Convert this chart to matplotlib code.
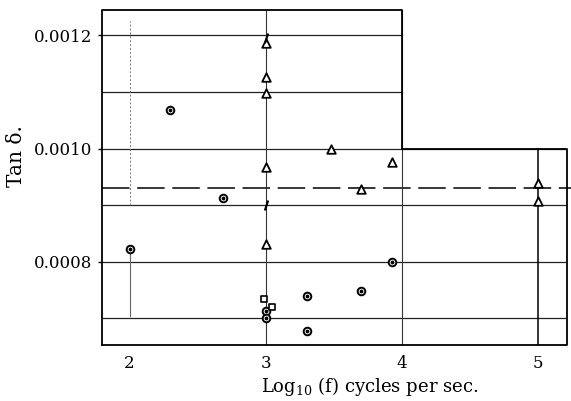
import matplotlib
matplotlib.use("Agg")
import matplotlib.pyplot as plt

plt.rcParams["mathtext.fontset"] = "dejavuserif"

# ---- data ----
tri_x = [3.0, 3.0, 3.0, 3.0, 3.0, 3.48, 3.70, 3.93, 5.0, 5.0]
tri_y = [0.001187, 0.001127, 0.001099, 0.000968, 0.000832, 0.0010, 0.000929, 0.000977, 0.000940, 0.000908]
circ_x = [2.0, 2.30, 2.69, 3.0, 3.0, 3.30, 3.30, 3.70, 3.93]
circ_y = [0.000823, 0.001069, 0.000913, 0.000713, 0.000700, 0.000740, 0.000678, 0.000749, 0.000800]
sq_x = [2.99, 3.05]
sq_y = [0.000735, 0.000721]
slash_x = [3.0, 3.0]
slash_y = [0.001195, 0.000900]
mean_line = 0.000931
xticks = [2, 3, 4, 5]
yticks = [0.0008, 0.0010, 0.0012]
ytick_labels = ["0.0008", "0.0010", "0.0012"]
grid_short = [0.0012, 0.0011]
grid_full = [0.0010, 0.0009, 0.0008, 0.0007]

W, H = 571, 401
fig = plt.figure(figsize=(W / 100, H / 100), dpi=100)
L, R, T, B = 102, 567, 10, 345
ax = fig.add_axes([L / W, 1 - B / H, (R - L) / W, (B - T) / H])
xl, xr = 1.798, 5.213
yb, yt = 0.000653, 0.001245
ax.set_xlim(xl, xr)
ax.set_ylim(yb, yt)
for s in ax.spines.values():
    s.set_visible(False)

serif = ["DejaVu Serif"]
fw = 1.3
# stepped frame
ax.plot([xl, xl, 4, 4, xr, xr, xl], [yb, yt, yt, 0.0010, 0.0010, yb, yb],
        color="black", lw=fw, clip_on=False, zorder=3)

# grid lines
for g in grid_short:
    ax.plot([xl, 4], [g, g], color="#222222", lw=0.9, zorder=1)
for g in grid_full:
    ax.plot([xl, xr], [g, g], color="#222222", lw=0.9, zorder=1)
ax.plot([xl, 5.26], [mean_line, mean_line], color="black", lw=1.1,
        dashes=(18, 5), clip_on=False, zorder=1)

# vertical lines
ax.plot([3, 3], [yb, yt], color="#333333", lw=0.8, zorder=1)
ax.plot([4, 4], [yb, yt], color="#333333", lw=0.8, zorder=1)
ax.plot([5, 5], [yb, 0.0010], color="black", lw=1.1, zorder=1)
ax.plot([2, 2], [0.00090, yt - 0.00002], color="#777777", lw=0.7, ls=(0, (2, 2)), zorder=1)
ax.plot([2, 2], [0.000705, circ_y[0]], color="#666666", lw=0.8, zorder=1)

# markers
ax.scatter(tri_x, tri_y, marker="^", s=38, facecolor="white", edgecolor="black",
           linewidth=1.3, zorder=4)
ax.scatter(circ_x, circ_y, marker="o", s=30, facecolor="white", edgecolor="black",
           linewidth=1.4, zorder=4)
ax.scatter(circ_x, circ_y, marker="o", s=3, color="black", zorder=5)
ax.scatter(sq_x, sq_y, marker="s", s=24, facecolor="white", edgecolor="black",
           linewidth=1.2, zorder=4)
ax.scatter(slash_x, slash_y, marker="$/$", s=40, color="black", zorder=5)

# ticks
ax.set_xticks(xticks)
ax.set_xticklabels([str(t) for t in xticks], fontfamily=serif, fontsize=12)
ax.set_yticks(yticks)
ax.set_yticklabels(ytick_labels, fontfamily=serif, fontsize=12)
ax.tick_params(axis="x", length=0, pad=7)
ax.tick_params(axis="y", length=3, width=1, direction="out", pad=4)

fig.text(370 / W, 1 - 387 / H, "Log$_{10}$ (f) cycles per sec.", ha="center", va="center",
         fontfamily=serif, fontsize=13)
fig.text(16 / W, 1 - 156 / H, "Tan δ.", ha="center", va="center", rotation=90,
         fontfamily=serif, fontsize=14.5)

fig.savefig("out.png", dpi=100)
